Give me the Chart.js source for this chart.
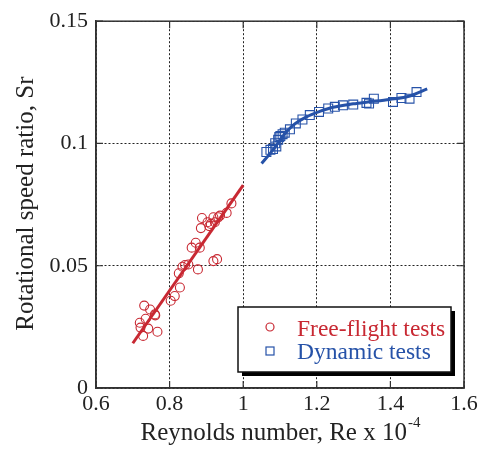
<!DOCTYPE html>
<html><head><meta charset="utf-8">
<script src="https://cdn.jsdelivr.net/npm/chart.js@4/dist/chart.umd.min.js"></script>
<style>html,body{margin:0;padding:0;background:#fff}#wrap{width:484px;height:451px}</style>
</head><body><div id="wrap"><canvas id="c" width="484" height="451"></canvas></div>
<script>
const freeFlightRe = [0.731,0.747,0.760,0.719,0.735,0.721,0.742,0.728,0.767,0.761,0.803,0.814,0.828,0.825,0.835,0.842,0.851,0.860,0.871,0.882,0.877,0.885,0.888,0.903,0.908,0.912,0.919,0.923,0.932,0.937,0.955,0.968,0.919,0.929];
const freeFlightSr = [0.0337,0.0321,0.0301,0.0267,0.0283,0.0247,0.0243,0.0213,0.0230,0.0297,0.0357,0.0376,0.0411,0.0469,0.0496,0.0503,0.0505,0.0574,0.0594,0.0574,0.0485,0.0654,0.0695,0.0678,0.0662,0.0671,0.0698,0.0678,0.0698,0.0705,0.0716,0.0755,0.0519,0.0527];
const dynamicRe = [1.063,1.074,1.081,1.090,1.087,1.095,1.098,1.101,1.107,1.113,1.127,1.143,1.161,1.181,1.206,1.231,1.249,1.271,1.299,1.335,1.342,1.355,1.407,1.430,1.452,1.471];
const dynamicSr = [0.0965,0.0974,0.0977,0.0988,0.1001,0.1015,0.1026,0.1031,0.1038,0.1044,0.1058,0.1082,0.1098,0.1116,0.1129,0.1143,0.1150,0.1156,0.1159,0.1166,0.1163,0.1183,0.1170,0.1186,0.1183,0.1210];
const freeFitRe = [0.70, 1.00];
const freeFitSr = [0.0183, 0.0830];
const dynFitRe = [1.050,1.081,1.109,1.136,1.172,1.208,1.244,1.299,1.335,1.398,1.453,1.500];
const dynFitSr = [0.0918,0.0974,0.1032,0.1075,0.1109,0.1131,0.1148,0.1162,0.1169,0.1180,0.1194,0.1223];
const xTickValues = [0.6,0.8,1.0,1.2,1.4,1.6];
const xTickLabels = ['0.6','0.8','1','1.2','1.4','1.6'];
const yTickValues = [0,0.05,0.1,0.15];
const yTickLabels = ['0','0.05','0.1','0.15'];
const seriesNames = ['Free-flight tests','Dynamic tests'];
const xTitleMain = 'Reynolds number, Re x 10';
const xTitleSup = '-4';
const yTitle = 'Rotational speed ratio, Sr';

const RED = 'rgb(200,40,50)';
const BLUE = 'rgb(38,82,168)';
const SERIF = '"Liberation Serif", "Times New Roman", serif';

const toPts = (xs, ys) => xs.map((x, i) => ({x, y: ys[i]}));

const decor = {
  id: 'decor',
  afterDraw(chart) {
    const {ctx, chartArea: a, scales} = chart;
    ctx.save();
    // frame
    ctx.strokeStyle = '#333';
    ctx.lineWidth = 1.5;
    ctx.setLineDash([]);
    ctx.strokeRect(a.left, a.top, a.right - a.left, a.bottom - a.top);
    // inward ticks
    ctx.lineWidth = 1.2;
    ctx.beginPath();
    xTickValues.forEach(v => {
      const p = scales.x.getPixelForValue(v);
      ctx.moveTo(p, a.bottom); ctx.lineTo(p, a.bottom - 7);
      ctx.moveTo(p, a.top); ctx.lineTo(p, a.top + 7);
    });
    yTickValues.forEach(v => {
      const p = scales.y.getPixelForValue(v);
      ctx.moveTo(a.left, p); ctx.lineTo(a.left + 7, p);
      ctx.moveTo(a.right, p); ctx.lineTo(a.right - 7, p);
    });
    ctx.stroke();
    // legend box
    const bx = a.right - 226, by = a.bottom - 81, bw = 213, bh = 65;
    ctx.fillStyle = '#000';
    ctx.fillRect(bx + 4, by + 4, bw, bh);
    ctx.fillStyle = '#fff';
    ctx.fillRect(bx, by, bw, bh);
    ctx.strokeStyle = '#111';
    ctx.lineWidth = 1.5;
    ctx.strokeRect(bx, by, bw, bh);
    // legend markers
    ctx.lineWidth = 1.2;
    ctx.strokeStyle = RED;
    ctx.beginPath();
    ctx.arc(bx + 32, by + 20, 4, 0, Math.PI * 2);
    ctx.stroke();
    ctx.strokeStyle = BLUE;
    ctx.strokeRect(bx + 28, by + 40, 8, 8);
    // legend text
    ctx.font = '23.5px ' + SERIF;
    ctx.textBaseline = 'alphabetic';
    ctx.textAlign = 'left';
    ctx.fillStyle = RED;
    ctx.fillText(seriesNames[0], bx + 59, by + 29);
    ctx.fillStyle = BLUE;
    ctx.fillText(seriesNames[1], bx + 59, by + 52);
    // x title
    ctx.fillStyle = '#222';
    ctx.font = '25px ' + SERIF;
    const wMain = ctx.measureText(xTitleMain).width;
    ctx.font = '15px ' + SERIF;
    const wSup = ctx.measureText(xTitleSup).width;
    const cx = (a.left + a.right) / 2;
    const startX = cx - (wMain + wSup) / 2;
    ctx.font = '25px ' + SERIF;
    ctx.fillText(xTitleMain, startX, 440);
    ctx.font = '15px ' + SERIF;
    ctx.fillText(xTitleSup, startX + wMain + 1, 427);
    // y title
    ctx.save();
    ctx.translate(33, (a.top + a.bottom) / 2 - 1);
    ctx.rotate(-Math.PI / 2);
    ctx.font = '25px ' + SERIF;
    ctx.textAlign = 'center';
    ctx.fillText(yTitle, 0, 0);
    ctx.restore();
    ctx.restore();
  }
};

new Chart(document.getElementById('c'), {
  type: 'scatter',
  data: {
    datasets: [
      {label: seriesNames[0], data: toPts(freeFlightRe, freeFlightSr), pointStyle: 'circle', pointRadius: 4.5, borderColor: RED, backgroundColor: 'rgba(0,0,0,0)', borderWidth: 1.1, order: 1},
      {label: seriesNames[1], data: toPts(dynamicRe, dynamicSr), pointStyle: 'rect', pointRadius: 6.3, borderColor: BLUE, backgroundColor: 'rgba(0,0,0,0)', borderWidth: 1.1, order: 1},
      {label: 'fit1', data: toPts(freeFitRe, freeFitSr), showLine: true, pointRadius: 0, borderColor: RED, borderWidth: 3, order: 2},
      {label: 'fit2', data: toPts(dynFitRe, dynFitSr), showLine: true, pointRadius: 0, borderColor: BLUE, borderWidth: 3, cubicInterpolationMode: 'monotone', order: 2}
    ]
  },
  options: {
    responsive: false,
    devicePixelRatio: 1,
    animation: false,
    layout: {padding: {left: 0, right: 20, top: 17, bottom: 0}},
    plugins: {legend: {display: false}, tooltip: {enabled: false}},
    scales: {
      x: {
        type: 'linear', min: 0.6, max: 1.6,
        afterBuildTicks: s => { s.ticks = xTickValues.map(v => ({value: v})); },
        afterFit: s => { s.height = 63; },
        ticks: {padding: 3, color: '#222', font: {family: SERIF, size: 22}, callback: (v) => xTickLabels[xTickValues.findIndex(t => Math.abs(t - v) < 1e-9)]},
        grid: {color: '#222', lineWidth: 1, drawTicks: false},
        border: {display: true, color: '#333', width: 1.5, dash: [2, 2]}
      },
      y: {
        type: 'linear', min: 0, max: 0.15,
        afterBuildTicks: s => { s.ticks = yTickValues.map(v => ({value: v})); },
        afterFit: s => { s.width = 96; },
        ticks: {padding: 8, color: '#222', font: {family: SERIF, size: 22}, callback: (v) => yTickLabels[yTickValues.findIndex(t => Math.abs(t - v) < 1e-9)]},
        grid: {color: '#222', lineWidth: 1, drawTicks: false},
        border: {display: true, color: '#333', width: 1.5, dash: [2, 2]}
      }
    }
  },
  plugins: [decor]
});
</script></body></html>
